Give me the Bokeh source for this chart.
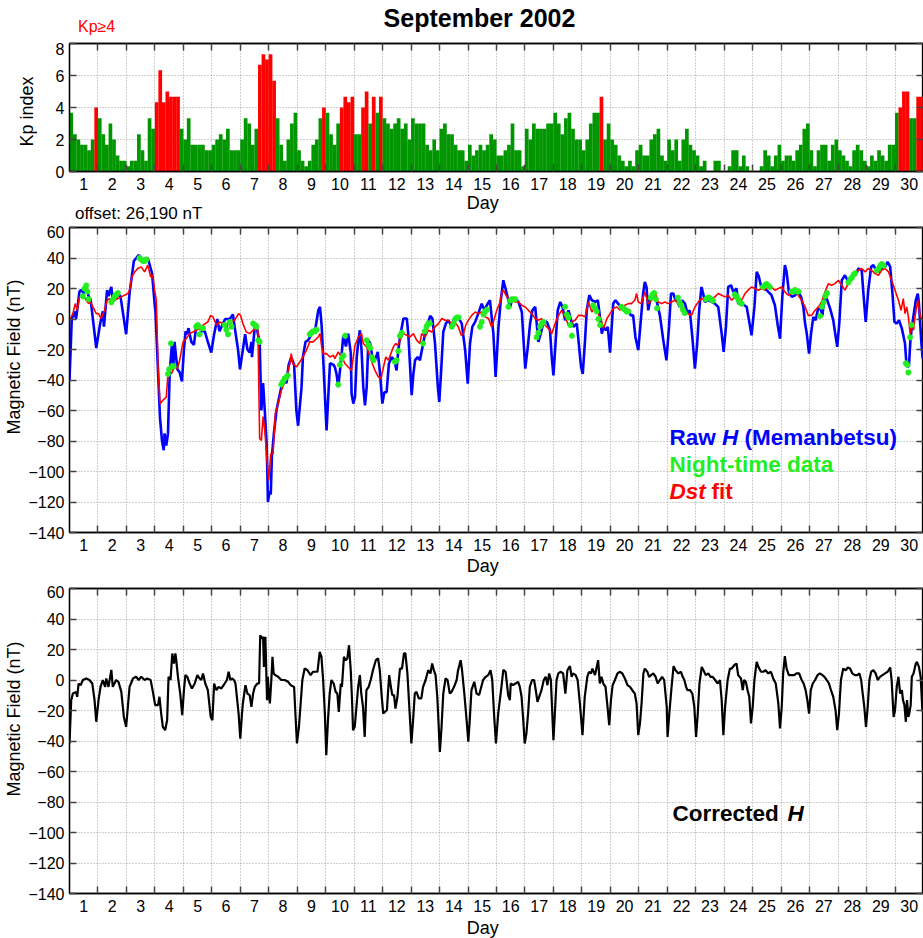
import math
from bokeh.plotting import figure
from bokeh.models import (Range1d, FixedTicker, LinearAxis, Label, Title, Div,
                          CustomJSTickFormatter, ColumnDataSource)
from bokeh.layouts import column
from bokeh.embed import file_html
from bokeh.resources import INLINE

FONT = "Liberation Sans"

# ---------------- data ----------------
DAYS = list(range(1, 31))

# 3-hourly Kp index, 8 values per day (Sept 1..30, 2002)
kp_index = [
    3.67, 2.33, 2.0, 1.67, 1.67, 1.33, 2.0, 4.0,
    3.33, 2.33, 1.67, 3.0, 2.0, 1.0, 0.67, 0.67,
    0.33, 0.67, 0.67, 2.33, 1.33, 0.67, 3.33, 2.67,
    4.33, 6.33, 4.33, 5.0, 4.67, 4.67, 4.67, 2.67,
    2.0, 3.33, 1.67, 1.67, 1.67, 1.67, 1.33, 1.33,
    1.67, 2.0, 2.33, 2.0, 2.67, 1.33, 1.33, 1.33,
    2.0, 3.33, 3.0, 1.67, 2.67, 6.67, 7.33, 7.0,
    7.33, 5.67, 3.33, 1.67, 0.67, 2.0, 3.0, 3.67,
    1.33, 0.67, 0.33, 0.67, 1.67, 2.0, 3.33, 4.0,
    3.67, 2.33, 1.67, 3.0, 4.0, 4.67, 4.33, 4.67,
    2.33, 2.33, 4.0, 5.0, 3.0, 4.67, 3.67, 4.67,
    3.33, 3.0, 2.67, 3.0, 3.33, 2.67, 3.0, 2.0,
    3.33, 3.0, 3.0, 3.0, 1.67, 1.33, 2.0, 1.33,
    2.67, 3.0, 2.33, 2.33, 1.67, 1.33, 1.33, 0.67,
    1.67, 1.0, 1.33, 1.67, 1.33, 1.67, 2.33, 2.0,
    1.0, 1.0, 1.33, 1.67, 3.0, 1.33, 1.33, 0.33,
    2.67, 2.0, 3.0, 2.67, 2.67, 2.67, 3.0, 3.0,
    3.67, 3.0, 2.33, 3.33, 3.67, 2.67, 2.0, 2.0,
    1.33, 2.0, 3.0, 3.67, 3.67, 4.67, 2.0, 3.0,
    2.0, 1.67, 1.0, 0.67, 0.33, 0.67, 0.33, 1.33,
    1.67, 1.0, 1.0, 2.0, 2.33, 2.67, 1.0, 0.67,
    2.0, 1.33, 2.0, 0.67, 2.0, 2.67, 1.67, 1.33,
    1.0, 0.33, 0.67, 0.0, 0.0, 0.67, 0.67, 0.0,
    0.0, 0.33, 1.33, 1.33, 0.33, 1.0, 0.33, 0.0,
    0.0, 0.0, 0.33, 1.33, 1.0, 0.33, 1.0, 1.67,
    0.67, 1.0, 1.0, 0.67, 1.33, 1.67, 2.67, 3.0,
    1.33, 0.33, 1.33, 1.67, 1.67, 0.67, 1.67, 2.0,
    1.33, 1.0, 0.67, 0.33, 1.33, 1.67, 1.33, 0.67,
    0.33, 1.0, 0.67, 1.33, 1.0, 0.67, 1.67, 1.67,
    3.67, 4.0, 5.0, 5.0, 3.33, 3.33, 4.67, 4.67,
]
KP_STORM = 4.0

# Raw H at Memanbetsu (day, nT, offset removed)
raw_h = [
    (1.00, -40), (1.08, 0), (1.18, 5), (1.23, 0), (1.35, 18), (1.41, 19), (1.50, 17), (1.59, 20),
    (1.67, 15), (1.74, 13), (1.94, -19), (2.06, -5), (2.11, 0), (2.17, 5), (2.21, -5), (2.32, 19),
    (2.37, 15), (2.47, 21), (2.52, 12), (2.64, 14), (2.70, 16), (2.79, 15), (2.99, -10), (3.11, 17),
    (3.26, 38), (3.43, 42), (3.58, 38), (3.75, 40), (3.90, 30), (3.99, 10), (4.02, 5), (4.18, -65),
    (4.25, -80), (4.31, -86), (4.34, -75), (4.40, -83), (4.46, -75), (4.52, -35), (4.60, -16),
    (4.65, -30), (4.69, -15), (4.79, -33), (4.87, -35), (4.95, -41), (5.02, -20), (5.08, -8),
    (5.13, -10), (5.18, -6), (5.28, -15), (5.37, -17), (5.45, -5), (5.54, -3), (5.63, -8),
    (5.75, -8), (5.86, -15), (5.98, -22), (6.08, -10), (6.19, 0), (6.27, -8), (6.39, -3),
    (6.47, 0), (6.63, 0), (6.74, 3), (6.80, -5), (6.92, -20), (6.99, -33), (7.09, -20),
    (7.17, -10), (7.25, -20), (7.33, -22), (7.39, -15), (7.41, -25), (7.51, -5), (7.56, -3),
    (7.62, -10), (7.68, -15), (7.74, -60), (7.80, -42), (7.86, -60), (7.92, -80), (7.95, -100),
    (7.97, -120), (8.03, -113), (8.07, -115), (8.11, -90), (8.18, -75), (8.27, -60), (8.38, -50),
    (8.50, -40), (8.62, -42), (8.70, -30), (8.79, -25), (8.89, -30), (8.97, -60), (9.03, -70),
    (9.15, -45), (9.20, -25), (9.29, -15), (9.38, -14), (9.50, -10),
    (9.62, -8.5), (9.74, 5.7), (9.80, 8), (9.86, -5), (10.03, -73), (10.15, -29), (10.27, -30),
    (10.32, -31.5), (10.38, -36), (10.44, -44.6), (10.54, -27), (10.62, -10.7), (10.71, -18),
    (10.79, -9.6), (10.88, -22), (10.91, -49), (10.97, -55.5), (11.03, -51), (11.09, -25),
    (11.15, -14), (11.20, -7.4), (11.26, -20.5), (11.32, -44.6), (11.38, -56.6), (11.44, -44.6),
    (11.50, -14), (11.56, -16), (11.64, -25), (11.73, -27), (11.83, -21.6), (11.91, -36),
    (11.99, -55.5), (12.06, -48), (12.14, -48), (12.22, -29.3), (12.32, -25), (12.41, -27),
    (12.49, -33.7), (12.55, -20.5), (12.61, -12), (12.73, 0.3), (12.85, 0.3), (12.90, -9.6),
    (13.02, -50), (13.08, -36), (13.14, -27), (13.23, -25), (13.31, -27), (13.40, -18.3),
    (13.49, -9.6), (13.59, -3), (13.67, 2), (13.75, 0.3), (13.84, -16.1), (13.94, -44.6),
    (13.99, -54.4), (14.05, -35.8), (14.13, -8.5), (14.22, -3), (14.31, -0.8), (14.40, -4.1),
    (14.54, 0.3), (14.66, 1), (14.78, -3), (14.90, -20.5), (14.99, -42.4), (15.07, -16),
    (15.15, -5.2), (15.25, -1.9), (15.36, 3.5), (15.48, 10), (15.58, 5.7), (15.66, 9),
    (15.77, 12.3), (15.83, 1.4), (15.89, -9.6), (15.97, -38), (16.07, -5.2), (16.15, 12.3),
    (16.24, 25.4), (16.33, 19), (16.42, 12), (16.48, 8), (16.54, 12.3), (16.65, 13.4),
    (16.77, 11.2), (16.89, 4.6), (16.95, -14), (17.01, -32.6), (17.10, -18.3), (17.18, -3),
    (17.26, 5.7), (17.36, 8), (17.47, -15), (17.57, -8.5), (17.65, -1.9), (17.77, -1.9),
    (17.88, -7.4), (17.94, -24.9), (18.00, -37), (18.08, -14), (18.15, 5.7), (18.24, 11.2),
    (18.32, 7.9), (18.41, -0.8), (18.53, 5.7), (18.62, -0.8), (18.70, -5.2), (18.82, -3),
    (18.88, -14), (18.97, -31.5), (19.03, -36), (19.11, -14), (19.17, 5.7), (19.26, 15.6),
    (19.35, 12.3), (19.47, 11.2), (19.56, 12.3), (19.62, 3.5), (19.70, -9.6), (19.76, -5.2),
    (19.84, -7.4), (19.91, -5.2), (19.99, -22),
    (20.10, 10.1), (20.18, 12.3), (20.27, 10.1), (20.39, 7.9), (20.51, 6.8), (20.63, 5.7),
    (20.72, 2.4), (20.80, 2.4), (20.88, -11.8), (20.98, -20.5), (21.07, -0.8), (21.15, 16.7),
    (21.21, 24.3), (21.27, 21), (21.33, 5.7), (21.42, 14.5), (21.50, 15.6), (21.62, 12.3),
    (21.74, 2.4), (21.86, -14), (21.97, -27.1), (22.06, -5.2), (22.13, 16.7), (22.21, 16.7),
    (22.27, 13.4), (22.36, 11.2), (22.44, 7.9), (22.52, 12.3), (22.62, 10.1), (22.71, 3.5),
    (22.79, 5.7), (22.89, -14), (22.97, -32.6), (23.05, -16.1), (23.12, 5.7), (23.20, 21),
    (23.26, 16.7), (23.32, 11.2), (23.44, 12.3), (23.56, 11.2), (23.67, 10.1), (23.79, 7.9),
    (23.91, -9.6), (23.98, -21.6), (24.06, -5.2), (24.14, 21), (24.24, 22.1), (24.32, 17.8),
    (24.43, 20), (24.49, 10.1), (24.61, 10.1), (24.70, 9), (24.79, 7.9), (24.87, -0.8),
    (24.96, -10.7), (25.06, 7.9), (25.14, 30.9), (25.22, 27.6), (25.31, 20), (25.43, 20),
    (25.55, 17.8), (25.66, 15.6), (25.78, 9), (25.88, -4.1), (25.96, -12.9), (26.04, 14.5),
    (26.13, 35.3), (26.19, 30.9), (26.27, 17.8), (26.37, 14.5), (26.49, 15.6), (26.60, 17.8),
    (26.70, 14.5), (26.78, 7.9), (26.84, -3), (26.90, -9.6), (26.98, -22.7), (27.05, -9.6),
    (27.13, 1.4), (27.21, -0.8), (27.31, 7.9), (27.40, 5.7), (27.45, 2.4), (27.52, 14.5),
    (27.60, 13.4), (27.72, 6.8), (27.83, -0.8), (27.89, -8.5), (27.97, -18.3), (28.04, -3),
    (28.13, 25.4), (28.24, 28.7), (28.36, 24.3), (28.45, 25.4), (28.54, 28.7), (28.65, 29.8),
    (28.71, 33.1), (28.83, 32), (28.89, 16.7), (28.97, -1.9), (29.06, 18.9), (29.16, 34.2),
    (29.24, 35.3), (29.30, 33.1), (29.42, 30.9), (29.53, 33.1), (29.65, 34.2), (29.74, 37.5),
    (29.83, 34.2), (29.91, 16.7), (29.98, -1.9), (30.06, -3), (30.14, -0.8), (30.24, -6.3),
    (30.29, -10.7), (30.35, -16.1), (30.40, -29.3), (30.45, -31.5), (30.49, -30.4), (30.54, -14),
    (30.59, -5.2), (30.65, 2.4), (30.73, 12.3), (30.80, 16.7), (30.84, 10.1), (30.92, -14),
    (30.97, -26),
]

# Dst fit (day, nT)
dst_fit = [
    (1.00, -0.8), (1.12, 3.5), (1.20, 10.1), (1.27, 5.7), (1.35, 14.5), (1.47, 15.6), (1.59, 12.3),
    (1.67, 10.1), (1.74, 11.2), (1.82, 7.9), (1.94, 3.5), (2.02, 3.5), (2.11, 0.3), (2.23, 5.7),
    (2.32, 12.3), (2.41, 13.4), (2.49, 10.1), (2.58, 12.3), (2.70, 13.4), (2.82, 14.5), (2.93, 15.6),
    (3.05, 16.7), (3.11, 18.9), (3.19, 27.6), (3.29, 30.9), (3.40, 33.1), (3.52, 34.2), (3.64, 30.9),
    (3.75, 35.3), (3.85, 27.6), (3.93, 28.7), (3.99, 18.9), (4.05, 12.3), (4.11, -31.5), (4.18, -55.5),
    (4.28, -53.3), (4.40, -51.2), (4.46, -35.8), (4.58, -35.8), (4.69, -31.5), (4.79, -32.6),
    (4.87, -27.1), (4.99, -15), (5.10, -12.9), (5.22, -9.6), (5.34, -8.5), (5.45, -7.4), (5.57, -6.3),
    (5.69, -4.1), (5.86, -1.9), (5.96, 2.4), (6.04, 1.4), (6.16, -4.1), (6.27, -1.9), (6.43, -3),
    (6.51, -8.5), (6.57, -1.9), (6.68, -1.9), (6.80, -0.8), (6.94, 3.5), (7.01, 2.4), (7.09, -3),
    (7.21, -8.5), (7.33, -9.6), (7.45, -7.4), (7.56, -6.3), (7.62, -7.4), (7.68, -78.5),
    (7.74, -79.6), (7.80, -64), (7.86, -73.1), (7.94, -92.7), (8.00, -105.9), (8.07, -88.4),
    (8.15, -88.4), (8.23, -62.1), (8.33, -55.5), (8.44, -46.8), (8.54, -42.4), (8.65, -35.8),
    (8.74, -29.3), (8.79, -22.7), (8.85, -29.3), (8.97, -31.5), (9.09, -28.2), (9.20, -24.9),
    (9.32, -20.5), (9.44, -15),
    (9.56, -15), (9.74, -11.8), (9.80, -9.6), (9.86, -18.3), (9.91, -22.7), (10.03, -22.7),
    (10.15, -24.9), (10.27, -23.8), (10.32, -26), (10.44, -21.6), (10.56, -24.9), (10.68, -29.3),
    (10.79, -31.5), (10.91, -33.7), (10.97, -24.9), (11.03, -17.2), (11.15, -11.8), (11.26, -9.6),
    (11.32, -16.1), (11.44, -18.3), (11.56, -24.9), (11.64, -29.3), (11.73, -33.7), (11.85, -38),
    (11.94, -39), (12.03, -31.5), (12.11, -24.9), (12.20, -27.1), (12.29, -22.7), (12.38, -18.3),
    (12.46, -16.1), (12.53, -17.2), (12.61, -14), (12.73, -9.6), (12.85, -10.7), (12.96, -11.8),
    (13.08, -9.6), (13.20, -14), (13.31, -16.1), (13.37, -9.6), (13.49, -11.8), (13.61, -7.4),
    (13.72, -8.5), (13.84, -5.2), (13.96, -3), (14.08, 0.3), (14.19, -0.8), (14.31, -0.8),
    (14.43, -3), (14.54, -1.9), (14.66, -5.2), (14.76, -10.7), (14.84, -9.6), (14.92, -4.1),
    (15.01, -0.8), (15.13, 2.4), (15.25, 4.6), (15.36, 3.5), (15.48, 4.6), (15.60, 1.4),
    (15.72, 0.3), (15.83, -5.2), (15.89, -1.9), (16.01, 5.7), (16.13, 11.2), (16.19, 17.8),
    (16.24, 18.9), (16.33, 15.6), (16.42, 13.4), (16.54, 12.3), (16.65, 11.2), (16.77, 11.2),
    (16.89, 9), (17.01, 7.9), (17.12, 5.7), (17.24, 3.5), (17.36, 0.3), (17.47, -0.8), (17.59, 0.3),
    (17.71, -4.1), (17.83, -6.3), (17.94, -9.6), (18.06, -3), (18.18, 2.4), (18.29, 5.7),
    (18.41, 1.4), (18.53, -4.1), (18.65, -1.9), (18.76, -0.8), (18.88, 2.4), (19.00, 2.4),
    (19.11, 1.4), (19.23, 11.2), (19.35, 4.6), (19.47, 7.9), (19.58, 3.5), (19.70, -1.9),
    (19.76, -6.3), (19.88, 0.3), (19.99, 3.5), (20.11, 7), (20.23, 7.9), (20.34, 5.7),
    (20.39, 7.9), (20.51, 9), (20.63, 10.1), (20.74, 10.1), (20.86, 12.3), (20.92, 16.7),
    (20.98, 11.2), (21.09, 10.1), (21.21, 17.8), (21.33, 10.1), (21.45, 12.3), (21.56, 17.8),
    (21.68, 11.2), (21.80, 10.1), (21.91, 11.2), (22.03, 10.1), (22.15, 11.2), (22.27, 12.3),
    (22.38, 10.1), (22.50, 6.8), (22.62, 4.6), (22.73, 3.5), (22.85, 2.4), (22.97, 7.9),
    (23.09, 11.2), (23.20, 13.4), (23.32, 12.3), (23.44, 14.5), (23.56, 13.4), (23.67, 14.5),
    (23.79, 16.7), (23.91, 15.6), (24.02, 14.5), (24.14, 15.6), (24.26, 12.3), (24.38, 14.5),
    (24.49, 13.4), (24.61, 12.3), (24.73, 16.7), (24.84, 18.9), (24.96, 21), (25.08, 20),
    (25.20, 18.9), (25.31, 20), (25.43, 18.9), (25.55, 22.1), (25.66, 21), (25.78, 18.9),
    (25.90, 20), (26.02, 21), (26.13, 17.8), (26.25, 15.6), (26.37, 16.7), (26.49, 18.9),
    (26.60, 15.6), (26.72, 12.3), (26.84, 7.9), (26.95, 2.4), (27.07, 2.4), (27.19, 5.7),
    (27.31, 7.9), (27.42, 11.2), (27.54, 17.8), (27.66, 23.2), (27.77, 22.1), (27.89, 23.2),
    (28.01, 25.4), (28.13, 22.1), (28.24, 18.9), (28.36, 23.2), (28.48, 27.6), (28.59, 30.9),
    (28.71, 32), (28.83, 33.1), (28.95, 30.9), (29.06, 33.1), (29.18, 32), (29.30, 29.8),
    (29.42, 28.7), (29.53, 32), (29.65, 33.1), (29.77, 30.9), (29.88, 25.4), (30.00, 18.9),
    (30.12, 12.3), (30.21, 5.7), (30.29, 13.4), (30.35, 3.5), (30.41, 7.9), (30.47, 1.4),
    (30.53, -9.6), (30.59, -3), (30.65, -7.4), (30.70, 1.4), (30.80, 12.3), (30.88, 2.4),
    (30.96, -0.8),
]

# Night-time samples of raw H (day, nT)
night_data = [
    (1.47, 15), (1.53, 20), (1.59, 22), (1.63, 18), (1.67, 13),
    (2.47, 11), (2.53, 13), (2.59, 15), (2.65, 16), (2.70, 17),
    (3.46, 40), (3.52, 39), (3.58, 38), (3.64, 38), (3.70, 39),
    (4.46, -36), (4.50, -33), (4.56, -16), (4.60, -31), (4.66, -31),
    (5.45, -5), (5.51, -4), (5.57, -10), (5.63, -6), (5.69, -6),
    (6.45, -4), (6.51, -7), (6.57, -10), (6.63, -2), (6.69, -5),
    (7.45, -3), (7.51, -4), (7.57, -5), (7.63, -14), (7.68, -15),
    (8.44, -43), (8.50, -41), (8.56, -39), (8.62, -38), (8.67, -37),
    (9.44, -10), (9.50, -9), (9.56, -8), (9.62, -8), (9.68, -7),
    (10.44, -43), (10.50, -30), (10.56, -26), (10.62, -24), (10.68, -11),
    (11.44, -14), (11.50, -17), (11.56, -19), (11.62, -25), (11.68, -27),
    (12.43, -28), (12.49, -27), (12.55, -21), (12.61, -11), (12.67, -9),
    (13.42, -16), (13.48, -8), (13.54, -5), (13.60, -3), (13.66, -3),
    (14.43, -5), (14.49, -3), (14.55, 0), (14.61, 1), (14.67, 1),
    (15.42, -5), (15.48, -2), (15.54, 3), (15.60, 5), (15.66, 6),
    (16.42, 8), (16.48, 12), (16.54, 13), (16.60, 13), (16.66, 13),
    (17.41, -12), (17.47, -9), (17.53, -5), (17.59, -3), (17.65, -2),
    (18.41, 8), (18.47, 3), (18.53, 1), (18.59, -4), (18.65, -11),
    (19.40, 9), (19.46, 7), (19.52, 5), (19.58, 0), (19.64, -4),
    (20.39, 8), (20.45, 7), (20.51, 6), (20.57, 5), (20.63, 5),
    (21.42, 14), (21.48, 16), (21.54, 17), (21.60, 13), (21.64, 7),
    (22.37, 14), (22.43, 11), (22.49, 9), (22.55, 6), (22.61, 4),
    (23.36, 13), (23.42, 14), (23.48, 14), (23.54, 13), (23.60, 12),
    (24.37, 16), (24.43, 15), (24.49, 13), (24.55, 11), (24.61, 10),
    (25.36, 21), (25.42, 22), (25.48, 23), (25.54, 22), (25.60, 21),
    (26.37, 18), (26.43, 18), (26.49, 19), (26.55, 18), (26.61, 18),
    (27.37, 2), (27.43, 8), (27.49, 11), (27.55, 15), (27.61, 17),
    (28.36, 24), (28.42, 26), (28.48, 27), (28.54, 29), (28.60, 30),
    (29.36, 32), (29.42, 33), (29.48, 35), (29.54, 36), (29.60, 35),
    (30.38, -29), (30.43, -30), (30.47, -35), (30.53, -12), (30.58, -4),
]

# Corrected H (day, nT)
corrected_h = [
    (1.00, -41.6), (1.06, -13.2), (1.12, -8.9), (1.23, -7.8), (1.27, -11), (1.32, -2.3), (1.39, -3.4),
    (1.47, 0), (1.59, 1), (1.70, 0), (1.80, -2.3), (1.88, -13.2), (1.94, -27.4), (2.02, -13.2),
    (2.09, -4.5), (2.17, 0), (2.25, -4.5), (2.29, 1), (2.37, -4.5), (2.47, 6.6), (2.52, -4.5),
    (2.64, 0), (2.72, -1.2), (2.82, -7.8), (2.91, -24.2), (2.99, -30.7), (3.05, -17.6), (3.11, -4.5),
    (3.23, 1), (3.34, 2.1), (3.43, 0), (3.52, 2.1), (3.64, 0), (3.73, 1), (3.85, 0), (3.93, -7.8),
    (4.01, -16.5), (4.11, -16.5), (4.16, -11), (4.22, -22), (4.28, -30.7), (4.36, -32.9),
    (4.43, -26.3), (4.48, 2.1), (4.55, 0), (4.61, 17.4), (4.67, 10.8), (4.72, 17.4), (4.75, 13),
    (4.81, 2.1), (4.89, -8.9), (4.96, -23.1), (5.02, -6.7), (5.07, 3.2), (5.14, 2.1), (5.22, -2.3),
    (5.30, -5.6), (5.40, -2.3), (5.49, 3.2), (5.57, 1), (5.63, 0), (5.69, 4.3), (5.77, -2.3),
    (5.86, -6.7), (5.96, -24.2), (6.02, -26.3), (6.08, -2.3), (6.16, -6.7), (6.24, -4.5),
    (6.33, -5.6), (6.45, -2.3), (6.53, 0), (6.59, 5.4), (6.65, 0), (6.71, 1), (6.78, 0),
    (6.83, -2.3), (6.88, -11), (6.94, -22), (7.00, -38.4), (7.06, -22), (7.09, -15.4),
    (7.18, -3.4), (7.25, -8.9), (7.33, -9.9), (7.39, -17.6), (7.45, -8.9), (7.51, -4.5),
    (7.60, -2.3), (7.66, -2.3), (7.70, 29.4), (7.75, 27.2), (7.80, 28.3), (7.83, 8.6),
    (7.88, 28.3), (7.94, -13.2), (7.97, 2.1), (8.00, -8.9), (8.04, -15.4), (8.09, 0),
    (8.13, 15.2), (8.17, 4.3), (8.23, 3.2), (8.33, 2.1), (8.44, 0), (8.56, 0), (8.68, -1.2),
    (8.77, -3.4), (8.89, -4.5), (8.93, -19.8), (8.99, -41.6), (9.06, -30.7), (9.12, -15.4),
    (9.18, 0), (9.26, 7.5), (9.36, 6.4), (9.47, 3.2), (9.55, 5.4), (9.61, 5.4), (9.71, 5.4),
    (9.79, 18.5), (9.85, 15.2), (9.91, 0), (9.97, -22), (10.02, -49.3), (10.08, -26.3),
    (10.14, -8.9), (10.20, 0), (10.28, -2.3), (10.35, -7.8), (10.41, -8.9), (10.46, -20.9),
    (10.53, -2.3), (10.57, -4.5), (10.64, 15.2), (10.70, 13), (10.76, 14.1), (10.82, 22.8),
    (10.88, 6.4), (10.93, -15.4), (10.96, -32.9), (11.02, -30.7), (11.08, -17.6), (11.14, -4.5),
    (11.20, 3.2), (11.25, -8.9), (11.31, -17.6), (11.37, -37.3), (11.43, -6.7), (11.51, -4.5),
    (11.58, 0), (11.66, 6.4), (11.76, 13), (11.84, 14.1), (11.90, 6.4), (11.96, -8.9),
    (12.02, -22), (12.08, -20.9), (12.15, -19.8), (12.19, -7.8), (12.23, 3.2), (12.29, -4.5),
    (12.34, -9.9), (12.40, -9.9), (12.45, -18.7), (12.52, -11), (12.57, 0), (12.61, 7.5),
    (12.68, 7.5), (12.75, 17.4), (12.80, 17.4), (12.87, 4.3), (12.95, -22), (13.01, -41.6),
    (13.07, -26.3), (13.13, -8.9), (13.19, -7.8), (13.27, -12.1), (13.36, -12.1), (13.42, -4.5),
    (13.51, 0), (13.60, 6.4), (13.68, 4.3), (13.74, 10.8), (13.80, 6.4), (13.86, 3.2),
    (13.92, -11), (13.97, -30.7), (14.01, -47.1), (14.07, -30.7), (14.13, -8.9), (14.21, 1),
    (14.28, 0), (14.36, -8.9), (14.42, -7.8), (14.51, -4.5), (14.60, 0), (14.65, 6.4),
    (14.74, 13), (14.79, 6.4), (14.87, -8.9), (14.95, -26.3), (15.01, -40.5), (15.06, -26.3),
    (15.12, -6.7), (15.22, -1.2), (15.30, -8.9), (15.39, -9.9), (15.45, -5.6), (15.53, 0),
    (15.62, 2.1), (15.71, 3.2), (15.79, 6.4), (15.85, 0), (15.92, -24.2), (15.98, -41.6),
    (16.06, -22), (16.16, -6.7), (16.24, 6.6), (16.32, 5.4), (16.41, -9.9), (16.47, -13.2),
    (16.50, -2.3), (16.58, -3.4), (16.67, -2.3), (16.76, -1.2), (16.82, -4.5), (16.88, -11),
    (16.94, -26.3), (16.99, -41.6), (17.05, -35.1), (17.11, -22), (17.17, -4.5), (17.25, 0),
    (17.32, 0), (17.38, -6.7), (17.44, -14.3), (17.50, -11), (17.58, -6.7), (17.66, 0),
    (17.73, 2.1), (17.79, -3.4), (17.85, 4.3), (17.91, 0), (17.97, -26.3), (18.00, -39.5),
    (18.05, -22), (18.11, 0), (18.17, 4.3), (18.26, 5.4), (18.34, 4.3), (18.42, -8.9),
    (18.49, 6.4), (18.58, 9.1), (18.64, 2.1), (18.69, 4.3), (18.78, 3.2), (18.85, 0),
    (18.93, -15.4), (19.02, -36.2), (19.10, -11), (19.19, 2.1), (19.25, 5.4), (19.32, 4.3),
    (19.37, 7.5), (19.46, 3.2), (19.51, 7.5), (19.57, 13), (19.63, -2.3), (19.69, 2.1),
    (19.75, -2.3), (19.83, -4.5), (19.90, -17.6), (19.96, -29.6), (20.02, -13.2), (20.08, -3.4),
    (20.16, 0), (20.25, 4.3), (20.34, 5.4), (20.42, 4.3), (20.51, 1), (20.60, -3.4),
    (20.69, -4.5), (20.77, -6.7), (20.86, -8.9), (20.92, -15.4), (20.98, -36.2), (21.04, -28.5),
    (21.10, -14.3), (21.16, 4.3), (21.21, 7.5), (21.30, 5.4), (21.36, 2.1), (21.43, 3.2),
    (21.51, 4.3), (21.59, 2.1), (21.66, -2.3), (21.74, 0), (21.82, 2.1), (21.89, 0),
    (21.98, -17.6), (22.01, -37.3), (22.07, -22), (22.15, -4.5), (22.22, 9.1), (22.29, 6.4),
    (22.39, 4.3), (22.48, 5.4), (22.54, 2.1), (22.60, 0), (22.66, -4.5), (22.71, -6.7),
    (22.80, -6.7), (22.88, -8.9), (22.95, -17.6), (23.01, -37.3), (23.07, -22), (23.13, -2.3),
    (23.21, 8.6), (23.27, 6.4), (23.35, 3.2), (23.44, 4.3), (23.52, 2.1), (23.59, 2.1),
    (23.68, 0), (23.77, -2.3), (23.85, 0), (23.91, -13.2), (23.97, -36.2), (24.03, -17.6),
    (24.12, 0), (24.20, 7.5), (24.26, 7.5), (24.35, 9.7), (24.43, 10.8), (24.49, 3.2),
    (24.59, 1), (24.65, -6.7), (24.70, 0), (24.76, -1.2), (24.82, -6.7), (24.88, -11),
    (24.94, -28.5), (25.00, -17.6), (25.06, 0), (25.14, 11.9), (25.20, 8.6), (25.29, 5.4),
    (25.37, 5.4), (25.45, 6.4), (25.55, 4.3), (25.64, 5.4), (25.72, 1), (25.81, -2.3),
    (25.90, -15.4), (25.96, -31.8), (26.02, -17.6), (26.07, 4.3), (26.13, 15.6), (26.19, 7.5),
    (26.27, 3.2), (26.37, 3.2), (26.46, 3.2), (26.54, 4.3), (26.63, 4.3), (26.72, 0),
    (26.79, -2.3), (26.86, -6.7), (26.92, -13.2), (26.98, -22), (27.04, -6.7), (27.11, -2.3),
    (27.19, 0), (27.28, 3.2), (27.36, 4.3), (27.45, 3.2), (27.52, 2.1), (27.60, 0),
    (27.68, -2.3), (27.75, -6.7), (27.83, -11), (27.91, -19.8), (27.97, -32.9), (28.03, -22),
    (28.10, 0), (28.18, 7.5), (28.27, 6.4), (28.34, 8.2), (28.42, 7.5), (28.50, 4.3),
    (28.59, 3.2), (28.68, 3.2), (28.75, 4.3), (28.81, 0), (28.85, -6.7), (28.92, -17.6),
    (28.98, -30.7), (29.04, -17.6), (29.10, 0), (29.16, 5.4), (29.24, 6.4), (29.32, 4.3),
    (29.39, 0), (29.47, 2.1), (29.56, 3.2), (29.65, 4.3), (29.74, 5.4), (29.83, 8.2),
    (29.88, 0), (29.95, -24.2), (30.00, -19.8), (30.06, -4.5), (30.12, 2.1), (30.18, -8.9),
    (30.24, -6.7), (30.28, -13.2), (30.33, -16.5), (30.38, -27.4), (30.42, -13.2), (30.47, -24.2),
    (30.50, -22), (30.55, -16.5), (30.59, 2.1), (30.65, 4.3), (30.73, 10.8), (30.77, 11.9),
    (30.84, 8.6), (30.90, 2.1), (30.96, -19.8), (31.00, -22),
]

Y_KP = [0, 2, 4, 6, 8]
Y_MAG = [-140, -120, -100, -80, -60, -40, -20, 0, 20, 40, 60]

# ---------------- helpers ----------------
GRID = "#a0a0a0"
TICK = "#444444"
W = 923


def make_fig(height, btop, bbottom, yrange, yticks):
    p = figure(width=W, height=height, x_range=Range1d(1, 31), y_range=Range1d(*yrange),
               output_backend="svg", toolbar_location=None,
               min_border_left=68, min_border_right=0,
               min_border_top=btop, min_border_bottom=bbottom)
    p.outline_line_color = "black"
    p.outline_line_width = 1.3
    p.background_fill_color = "white"
    p.border_fill_color = "white"

    xt = FixedTicker(ticks=[d + 0.5 for d in DAYS], minor_ticks=list(range(2, 31)))
    yt = FixedTicker(ticks=yticks, minor_ticks=[])

    xa = p.xaxis[0]
    xa.ticker = xt
    xa.formatter = CustomJSTickFormatter(code="return String(Math.floor(tick));")
    xa.major_tick_in = 0
    xa.major_tick_out = 0
    xa.minor_tick_in = 7
    xa.minor_tick_out = 0
    xa.minor_tick_line_color = TICK
    xa.minor_tick_line_width = 1.5
    xa.axis_line_color = "black"
    xa.axis_line_width = 1.3
    xa.major_label_text_font = FONT
    xa.major_label_text_font_size = "16px"
    xa.major_label_text_color = "black"
    xa.major_label_standoff = 6

    ya = p.yaxis[0]
    ya.ticker = yt
    ya.formatter = CustomJSTickFormatter(
        code="return tick < 0 ? '\u2212' + Math.abs(tick) : String(tick);")
    ya.major_tick_in = 7
    ya.major_tick_out = 0
    ya.minor_tick_in = 0
    ya.minor_tick_out = 0
    ya.major_tick_line_color = TICK
    ya.major_tick_line_width = 1.5
    ya.axis_line_color = "black"
    ya.axis_line_width = 1.3
    ya.major_label_text_font = FONT
    ya.major_label_text_font_size = "16px"
    ya.major_label_text_color = "black"
    ya.major_label_standoff = 5

    blank = "return '';"
    top = LinearAxis(ticker=xt, formatter=CustomJSTickFormatter(code=blank),
                     major_tick_in=0, major_tick_out=0, minor_tick_in=7, minor_tick_out=0,
                     minor_tick_line_color=TICK, minor_tick_line_width=1.5,
                     axis_line_color="black", axis_line_width=1.3,
                     major_label_text_font_size="0px", major_label_standoff=0)
    p.add_layout(top, "above")
    right = LinearAxis(ticker=yt, formatter=CustomJSTickFormatter(code=blank),
                       major_tick_in=7, major_tick_out=0, minor_tick_in=0, minor_tick_out=0,
                       major_tick_line_color=TICK, major_tick_line_width=1.5,
                       axis_line_color="black", axis_line_width=1.3,
                       major_label_text_font_size="0px", major_label_standoff=0)
    p.add_layout(right, "right")

    g = p.xgrid[0]
    g.ticker = xt
    g.grid_line_color = None
    g.minor_grid_line_color = GRID
    g.minor_grid_line_dash = "1 2"
    g.minor_grid_line_width = 1
    gy = p.ygrid[0]
    gy.ticker = yt
    gy.grid_line_color = GRID
    gy.grid_line_dash = "1 2"
    gy.grid_line_width = 1
    return p


def ytitle(p, text, offset, standoff):
    p.add_layout(Title(text=text, align="left", offset=offset, standoff=standoff,
                       vertical_align="middle", text_font=FONT, text_font_size="18px",
                       text_font_style="normal", text_color="black"), "left")


def label(p, text, x, y, size, color="black", style="normal"):
    p.add_layout(Label(x=x, y=y, x_units="screen", y_units="screen", text=text,
                       text_font=FONT, text_font_size=size, text_font_style=style,
                       text_color=color, text_align="left", text_baseline="alphabetic"))


def text_div(top, height, items):
    # items: (text, x, baseline (page px), size, weight, color, align)
    parts = []
    for txt, x, base, size, weight, color, align in items:
        t = base - top - 0.8465 * size
        if align == "center":
            pos = "left:%.1fpx;width:400px;text-align:center;" % (x - 200)
        else:
            pos = "left:%.1fpx;" % x
        parts.append(
            '<div style="position:absolute;%stop:%.1fpx;font-family:\'%s\';font-size:%spx;'
            'line-height:%spx;font-weight:%s;color:%s;white-space:nowrap;">%s</div>'
            % (pos, t, FONT, size, size, weight, color, txt))
    html = ('<div style="position:relative;width:%dpx;height:%dpx;overflow:visible;">' % (W, height)
            + "".join(parts) + "</div>")
    return Div(text=html, width=W, height=height, margin=(0, 0, 0, 0))


# ---------------- header ----------------
head = text_div(0, 42, [
    ("September 2002", 479.5, 27, 25, "bold", "black", "center"),
    ("Kp\u22654", 78, 32, 16, "normal", "#ff0000", "left"),
])

# ---------------- panel 1: Kp ----------------
p1 = make_fig(153, 1, 24, (0, 8), Y_KP)
kp_time = [1 + (i + 0.5) / 8 for i in range(len(kp_index))]
kp_color = ["#ff0000" if v >= KP_STORM else "#009600" for v in kp_index]
src_kp = ColumnDataSource(dict(x=kp_time, top=kp_index, c=kp_color))
p1.vbar(x="x", top="top", bottom=0, width=0.13, fill_color="c", line_color=None,
        source=src_kp)
ytitle(p1, "Kp index", 25, 30)

gap1 = text_div(195, 30, [
    ("Day", 482.7, 209.5, 18, "normal", "black", "center"),
    ("offset: 26,190 nT", 75, 219, 17, "normal", "black", "left"),
])

# ---------------- panel 2: raw H, night-time, Dst ----------------
p2 = make_fig(331, 2, 24, (-140, 60), Y_MAG)
p2.line([t for t, v in raw_h], [v for t, v in raw_h], line_color="#0000ff", line_width=2.6)
p2.line([t for t, v in dst_fit], [v for t, v in dst_fit], line_color="#ff0000", line_width=1.6)
p2.scatter([t for t, v in night_data], [v for t, v in night_data], marker="asterisk",
           size=6, line_color="#22ee22", line_width=1.8)
ytitle(p2, "Magnetic Field (nT)", 98, 2)
label(p2, "Raw", 600, 95, "22.5px", color="#0000ff", style="bold")
label(p2, "H", 652.5, 95, "22.5px", color="#0000ff", style="bold italic")
label(p2, "(Memanbetsu)", 675, 95, "22.5px", color="#0000ff", style="bold")
label(p2, "Night-time data", 600, 68, "22.5px", color="#22ee22", style="bold")
label(p2, "Dst", 600, 41, "22.5px", color="#ff0000", style="bold italic")
label(p2, "fit", 642, 41, "22.5px", color="#ff0000", style="bold")

gap2 = text_div(556, 29, [
    ("Day", 482.7, 572.5, 18, "normal", "black", "center"),
])

# ---------------- panel 3: corrected H ----------------
p3 = make_fig(332, 3, 24, (-140, 60), Y_MAG)
p3.line([t for t, v in corrected_h], [v for t, v in corrected_h], line_color="black",
        line_width=2.2)
ytitle(p3, "Magnetic Field (nT)", 97, 2)
label(p3, "Corrected", 603, 80, "22.5px", style="bold")
label(p3, "H", 718, 80, "22.5px", style="bold italic")

gap3 = text_div(917, 21, [
    ("Day", 482.7, 934, 18, "normal", "black", "center"),
])

layout = column(head, p1, gap1, p2, gap2, p3, gap3, spacing=0)
open("out.html", "w").write(file_html(layout, INLINE))
